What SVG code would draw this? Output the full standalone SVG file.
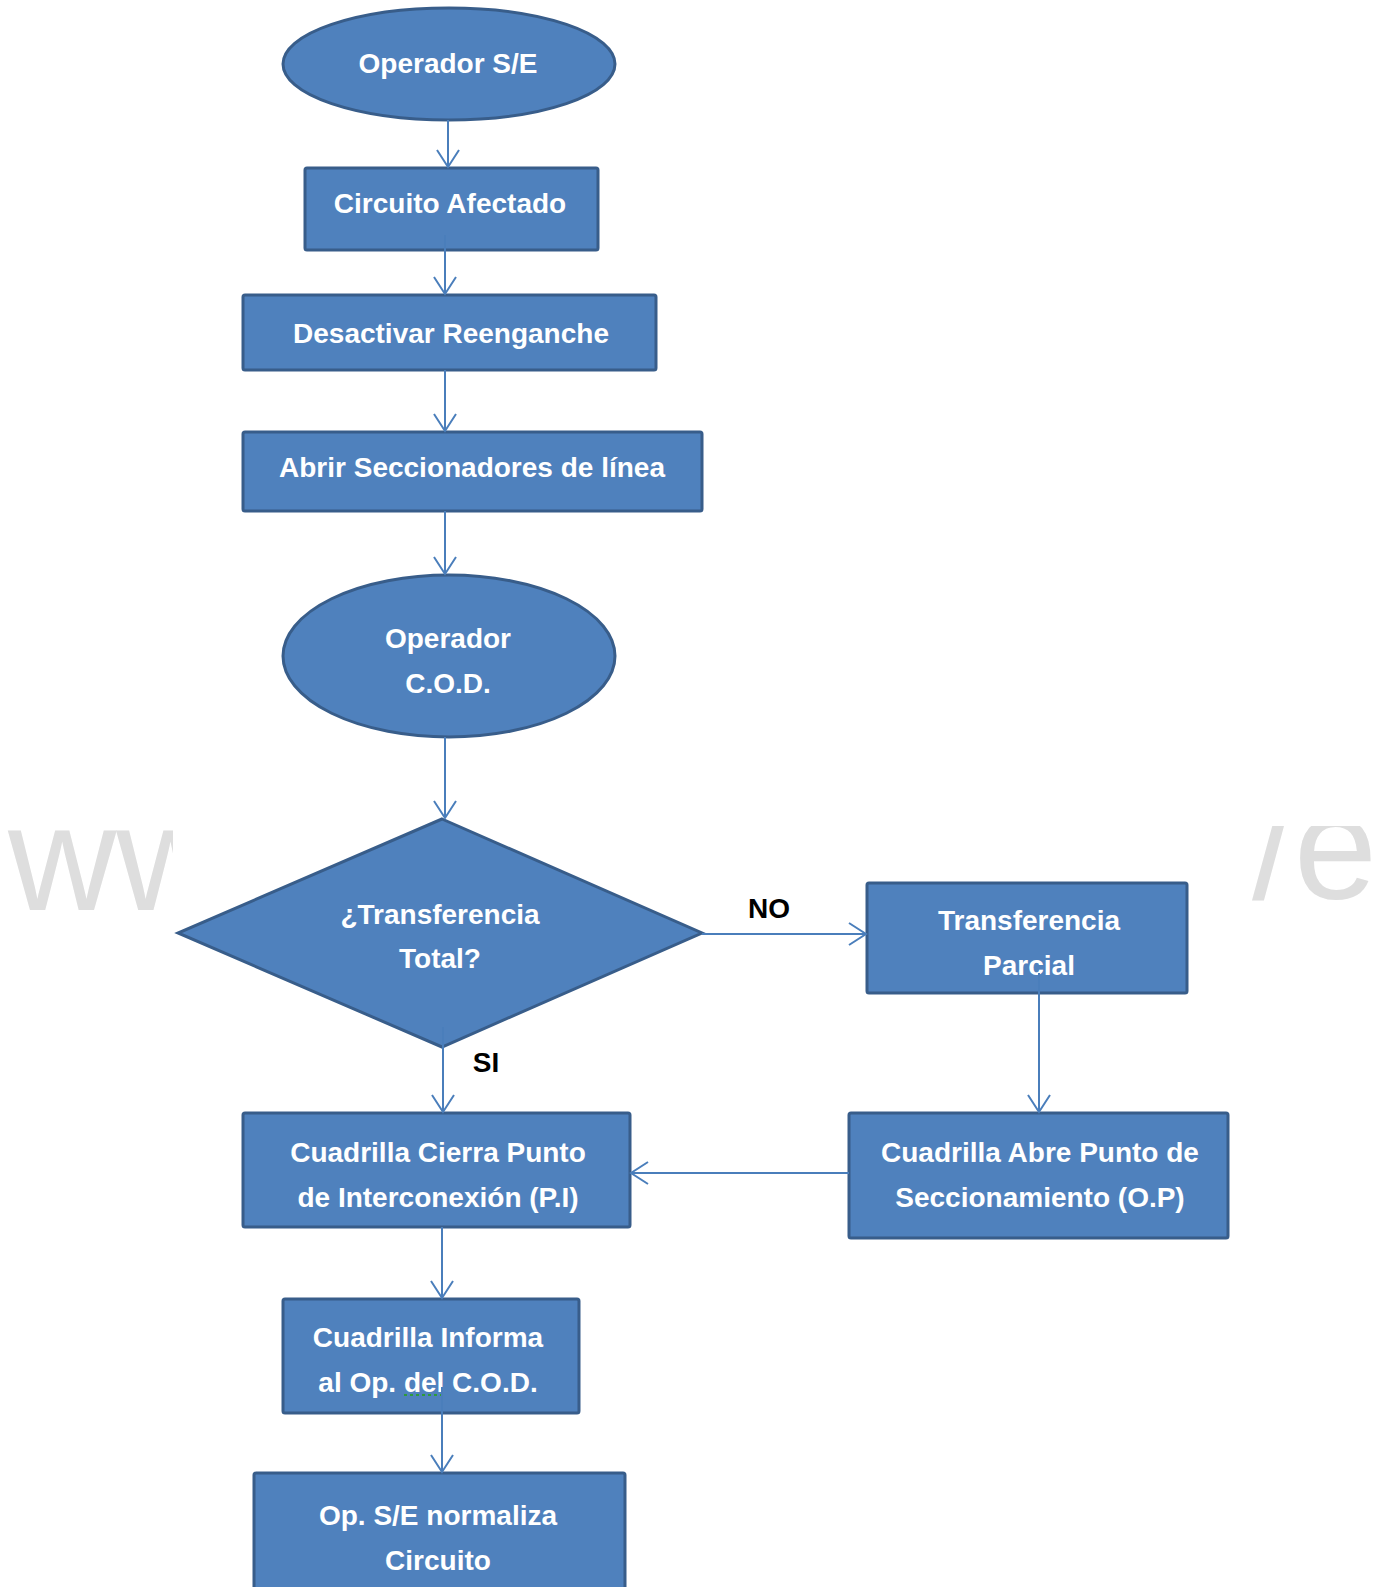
<svg xmlns="http://www.w3.org/2000/svg" width="1382" height="1587" viewBox="0 0 1382 1587">
<style>
.shape{fill:#4F81BD;stroke:#385D8A;stroke-width:3}
.lbl{font-family:"Liberation Sans",Arial,sans-serif;font-weight:bold;font-size:28px;fill:#FFFFFF;text-anchor:middle}
.edge{font-family:"Liberation Sans",Arial,sans-serif;font-weight:bold;font-size:28px;fill:#000000;text-anchor:middle}
.conn{fill:none;stroke:#4A7EBB;stroke-width:2;marker-end:url(#arr)}
.wm{font-family:"Liberation Sans",Arial,sans-serif;font-size:150px;fill:#DEDEDE}
</style>
<defs>
<marker id="arr" markerUnits="userSpaceOnUse" viewBox="-20 -13 23 26" refX="0" refY="0" markerWidth="23" markerHeight="26" orient="auto">
<path d="M-17,-11 L0,0 L-17,11" fill="none" stroke="#4A7EBB" stroke-width="2"/>
</marker>
<clipPath id="wmL"><rect x="0" y="790" width="173" height="140"/></clipPath>
<clipPath id="wmR"><rect x="1250" y="826" width="132" height="86"/></clipPath>
</defs>
<rect x="0" y="0" width="1382" height="1587" fill="#FFFFFF"/>
<g id="watermark">
<text class="wm" x="8" y="910" clip-path="url(#wmL)">ww</text>
<text class="wm" x="1252" y="899" clip-path="url(#wmR)">/e</text>
</g>
<g id="n1"><ellipse class="shape" cx="449" cy="64" rx="166" ry="56"/><text class="lbl" x="448" y="73">Operador S/E</text></g>
<g id="n2"><rect class="shape" x="305" y="168" width="293" height="82" rx="2"/><text class="lbl" x="450" y="213">Circuito Afectado</text></g>
<g id="n3"><rect class="shape" x="243" y="295" width="413" height="75" rx="2"/><text class="lbl" x="451" y="343">Desactivar Reenganche</text></g>
<g id="n4"><rect class="shape" x="243" y="432" width="459" height="79" rx="2"/><text class="lbl" x="472" y="477">Abrir Seccionadores de línea</text></g>
<g id="n5"><ellipse class="shape" cx="449" cy="656" rx="166" ry="81"/><text class="lbl" x="448" y="648">Operador</text><text class="lbl" x="448" y="693">C.O.D.</text></g>
<g id="n6"><polygon class="shape" points="442,819 702,933 442,1047 178,933"/><text class="lbl" x="440" y="924">¿Transferencia</text><text class="lbl" x="440" y="968">Total?</text></g>
<g id="n7"><rect class="shape" x="867" y="883" width="320" height="110" rx="2"/><text class="lbl" x="1029" y="930">Transferencia</text><text class="lbl" x="1029" y="975">Parcial</text></g>
<g id="n8"><rect class="shape" x="849" y="1113" width="379" height="125" rx="2"/><text class="lbl" x="1040" y="1162">Cuadrilla Abre Punto de</text><text class="lbl" x="1040" y="1207">Seccionamiento (O.P)</text></g>
<g id="n9"><rect class="shape" x="243" y="1113" width="387" height="114" rx="2"/><text class="lbl" x="438" y="1162">Cuadrilla Cierra Punto</text><text class="lbl" x="438" y="1207">de Interconexión (P.I)</text></g>
<g id="n10"><rect class="shape" x="283" y="1299" width="296" height="114" rx="2"/><text class="lbl" x="428" y="1347">Cuadrilla Informa</text><text class="lbl" x="428" y="1392">al Op. del C.O.D.</text><line x1="404" y1="1395" x2="446" y2="1395" stroke="#2E9B3A" stroke-width="2" stroke-dasharray="3,3"/></g>
<g id="n11"><rect class="shape" x="254" y="1473" width="371" height="130" rx="2"/><text class="lbl" x="438" y="1525">Op. S/E normaliza</text><text class="lbl" x="438" y="1570">Circuito</text></g>
<g id="connectors">
<path class="conn" d="M448,120 L448,167"/>
<path class="conn" d="M445,235 L445,294"/>
<path class="conn" d="M445,370 L445,431"/>
<path class="conn" d="M445,511 L445,574"/>
<path class="conn" d="M445,737 L445,818"/>
<path class="conn" d="M702,934 L866,934"/>
<path class="conn" d="M1039,973 L1039,1112"/>
<path class="conn" d="M849,1173 L631,1173"/>
<path class="conn" d="M443,1027 L443,1112"/>
<path class="conn" d="M442,1227 L442,1298"/>
<path class="conn" d="M442,1387 L442,1472"/>
<text class="edge" x="769" y="918">NO</text>
<text class="edge" x="486" y="1072" font-size="27">SI</text>
</g>
</svg>
